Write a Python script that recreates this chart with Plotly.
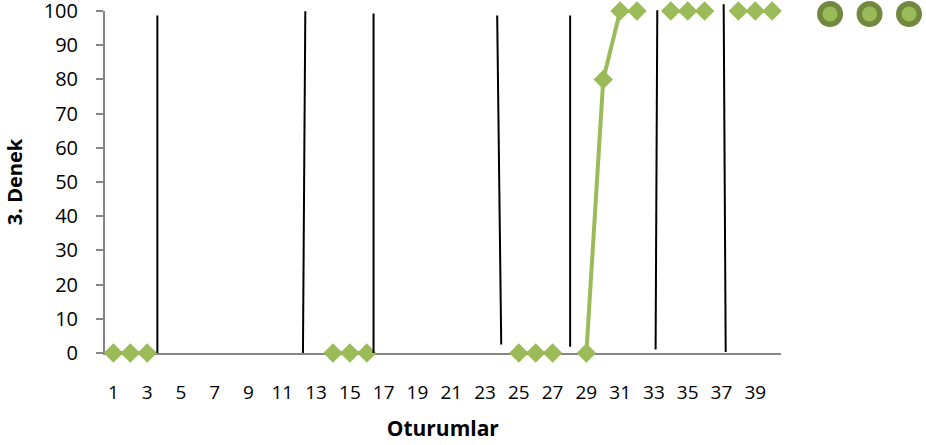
import plotly.graph_objects as go

sessions = list(range(1, 41))
# percentage per session (None = no session data in this series)
values = [0, 0, 0, None, None, None, None, None, None, None,
          None, None, None, 0, 0, 0, None, None, None, None,
          None, None, None, None, 0, 0, 0, None, 0, 80,
          100, 100, None, 100, 100, 100, None, 100, 100, 100]

x_ticks = list(range(1, 40, 2))
y_ticks = list(range(0, 101, 10))
y_max = 100

# phase-change lines (session position at bottom/top, value at bottom/top)
phase_x_bottom = [3.6, 12.22, 16.4, 23.96, 28.04, 33.1, 37.25]
phase_x_top = [3.6, 12.36, 16.4, 23.72, 28.04, 33.2, 37.13]
phase_y_bottom = [0, 0, 0, 2.5, 1.8, 1.0, 0.3]
phase_y_top = [98.7, 99.9, 99.3, 98.7, 98.7, 100.2, 102]

legend_pts = [1, 2, 3]

green = "#9BBB59"
dark_green = "#71893F"
axis_gray = "#868686"
font_family = "Open Sans"

fig = go.Figure()
fig.add_trace(go.Scatter(
    x=sessions, y=values, mode="lines+markers",
    line=dict(color=green, width=4),
    marker=dict(symbol="diamond", size=15, color=green),
    connectgaps=False, cliponaxis=False, showlegend=False,
))
fig.add_trace(go.Scatter(
    x=legend_pts, y=[0] * len(legend_pts), mode="markers",
    marker=dict(symbol="circle", size=20.5, color=green,
                line=dict(color=dark_green, width=5.5)),
    xaxis="x2", yaxis="y2", cliponaxis=False, showlegend=False,
))

for xb, xt, yb, yt in zip(phase_x_bottom, phase_x_top, phase_y_bottom, phase_y_top):
    fig.add_shape(type="line", xref="x", yref="paper",
                  x0=xb, x1=xt, y0=yb / y_max, y1=yt / y_max,
                  line=dict(color="black", width=2), layer="above")

main_end = (780.5 - 104.5) / (926 - 104.5)

fig.update_layout(
    width=926, height=445,
    margin=dict(l=104.5, r=0, t=11, b=92.3, autoexpand=False),
    plot_bgcolor="white", paper_bgcolor="white",
    font=dict(family=font_family, size=19, color="black"),
    hovermode=False,
    xaxis=dict(
        domain=[0, main_end], range=[0.5, 40.5], automargin=False,
        tickmode="array", tickvals=x_ticks, ticktext=[str(t) for t in x_ticks],
        showgrid=False, zeroline=False, showline=True, linecolor=axis_gray, linewidth=2,
        ticks="", ticklabelstandoff=21, layer="below traces",
        title=dict(text="<b>Oturumlar</b>", font=dict(size=21), standoff=18),
    ),
    yaxis=dict(
        range=[0, y_max], tickmode="array", tickvals=y_ticks, automargin=False,
        showgrid=False, zeroline=False, showline=True, linecolor=axis_gray, linewidth=2,
        ticks="outside", ticklen=7, tickcolor=axis_gray, tickwidth=2,
        ticklabelstandoff=14, ticklabeloverflow="allow", layer="below traces",
        tickfont=dict(size=20),
        title=dict(text="<b>3. Denek</b>", font=dict(size=20), standoff=16),
    ),
    xaxis2=dict(domain=[main_end, 1], range=[-0.253, 3.43], visible=False,
                anchor="y2", fixedrange=True),
    yaxis2=dict(domain=[0.9, 1], range=[-1.04, 0.1], visible=False,
                anchor="x2", fixedrange=True),
)

fig.write_html("out.html", config={"displayModeBar": False, "staticPlot": True},
               post_script="document.body.style.margin='0';")
